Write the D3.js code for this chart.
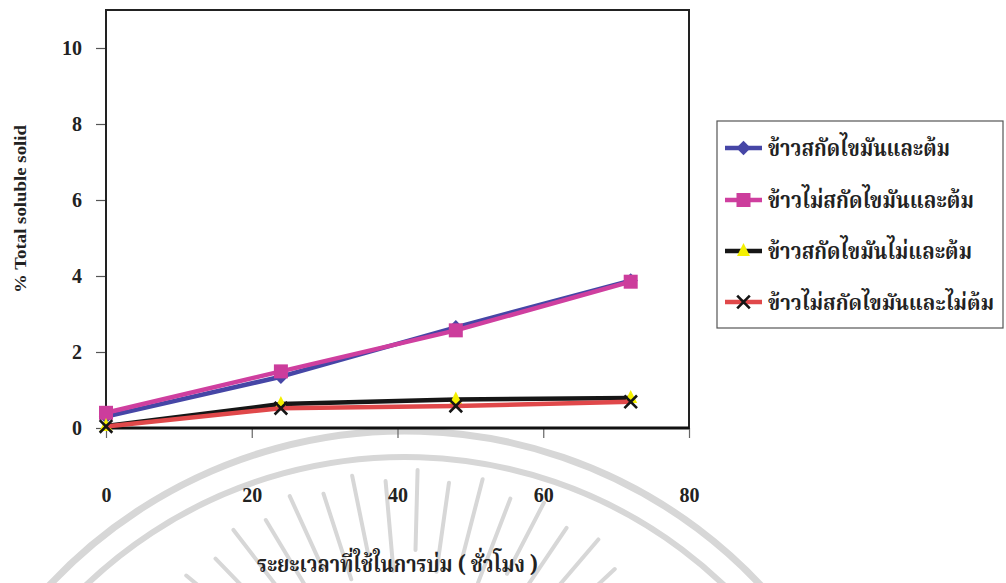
<!DOCTYPE html>
<html>
<head>
<meta charset="utf-8">
<script src="https://cdn.jsdelivr.net/npm/d3@7/dist/d3.min.js"></script>
<style>
  html, body { margin: 0; padding: 0; background: #fff; }
  svg { display: block; }
  .num { font-family: "Liberation Serif", "Times New Roman", serif; font-weight: bold; fill: #222; }
  .thai { font-family: "Noto Serif Thai", "Noto Sans Thai", "Loma", "Garuda", "Noto Sans", "DejaVu Sans", sans-serif; font-weight: bold; fill: #222; }
</style>
</head>
<body>
<svg id="chart" width="1006" height="583"></svg>
<script>
// Incubation time (hours) and % total soluble solid for four rice treatments
const hours = [0, 24, 48, 72];
const riceDefattedBoiled = [0.30, 1.35, 2.65, 3.88];
const riceFullFatBoiled = [0.40, 1.49, 2.57, 3.85];
const riceDefattedUnboiled = [0.05, 0.63, 0.75, 0.79];
const riceFullFatUnboiled = [0.04, 0.52, 0.58, 0.69];

const seriesNames = [
  "ข้าวสกัดไขมันและต้ม",
  "ข้าวไม่สกัดไขมันและต้ม",
  "ข้าวสกัดไขมันไม่และต้ม",
  "ข้าวไม่สกัดไขมันและไม่ต้ม"
];
const yTicks = [0, 2, 4, 6, 8, 10];
const xTicks = [0, 20, 40, 60, 80];
const yTitle = "% Total soluble solid";
const xTitle = "ระยะเวลาที่ใช้ในการบ่ม ( ชั่วโมง )";

const seriesValues = [riceDefattedBoiled, riceFullFatBoiled, riceDefattedUnboiled, riceFullFatUnboiled];
const styles = [
  { line: "#4646a6", marker: "diamond", fill: "#4646a6", stroke: "none" },
  { line: "#cf3f9f", marker: "square", fill: "#cc3d9c", stroke: "none" },
  { line: "#161616", marker: "triangle", fill: "#f4f000", stroke: "none" },
  { line: "#e0484a", marker: "cross", fill: "none", stroke: "#151515" }
];

const svg = d3.select("#chart");
const plot = { left: 106, right: 689, top: 10, bottom: 428 };

const x = d3.scaleLinear().domain([0, 80]).range([plot.left, plot.right]);
const y = d3.scaleLinear().domain([0, 11]).range([plot.bottom, plot.top]);

// faint seal in the background
const wm = svg.append("g").attr("fill", "none").attr("stroke", "#d7d7d7");
function arcPath(cx, cy, r, a0, a1) {
  const p = d3.path();
  p.arc(cx, cy, r, a0, a1);
  return p.toString();
}
wm.append("path").attr("d", arcPath(405, 918, 487, Math.PI * 1.12, Math.PI * 1.9)).attr("stroke-width", 7);
wm.append("path").attr("d", arcPath(405, 918, 461, Math.PI * 1.12, Math.PI * 1.9)).attr("stroke-width", 6);
const rayCenter = [410, 760];
d3.range(-160, -15, 6.5).forEach((deg, i) => {
  const a = deg * Math.PI / 180;
  const r1 = i % 2 ? 210 : 190;
  const r2 = i % 2 ? 290 : 280;
  wm.append("line")
    .attr("x1", rayCenter[0] + r1 * Math.cos(a)).attr("y1", rayCenter[1] + r1 * Math.sin(a))
    .attr("x2", rayCenter[0] + r2 * Math.cos(a)).attr("y2", rayCenter[1] + r2 * Math.sin(a))
    .attr("stroke-width", 4).attr("stroke-linecap", "round");
});

// axes
const yAxis = d3.axisLeft(y).tickValues(yTicks).tickSize(10).tickPadding(14).tickFormat(d3.format("d"));
const gy = svg.append("g").attr("transform", `translate(${plot.left},0)`).call(yAxis);
gy.select(".domain").remove();
gy.selectAll(".tick line").attr("stroke", "#555").attr("stroke-width", 1.2);
gy.selectAll(".tick text").attr("class", "num").style("font-size", "20px").attr("dy", "0.34em");

const xAxis = d3.axisBottom(x).tickValues(xTicks).tickSize(10).tickPadding(50).tickFormat(d3.format("d"));
const gx = svg.append("g").attr("transform", `translate(0,${plot.bottom})`).call(xAxis);
gx.select(".domain").remove();
gx.selectAll(".tick line").attr("stroke", "#666").attr("stroke-width", 1.2);
gx.selectAll(".tick text").attr("class", "num").style("font-size", "20px");

// plot frame
svg.append("rect")
  .attr("x", plot.left).attr("y", plot.top)
  .attr("width", plot.right - plot.left).attr("height", plot.bottom - plot.top)
  .attr("fill", "none").attr("stroke", "#222").attr("stroke-width", 2);
svg.append("line")
  .attr("x1", plot.left).attr("x2", plot.right)
  .attr("y1", plot.bottom).attr("y2", plot.bottom)
  .attr("stroke", "#111").attr("stroke-width", 3);

// marker shapes
function drawMarker(g, kind, st, cx, cy, s) {
  if (kind === "diamond") {
    g.append("path").attr("d", `M${cx},${cy - s * 0.6}L${cx + s * 0.6},${cy}L${cx},${cy + s * 0.6}L${cx - s * 0.6},${cy}Z`).attr("fill", st.fill);
  } else if (kind === "square") {
    g.append("rect").attr("x", cx - s / 2).attr("y", cy - s / 2).attr("width", s).attr("height", s).attr("fill", st.fill);
  } else if (kind === "triangle") {
    g.append("path").attr("d", `M${cx},${cy - s * 0.62}L${cx + s * 0.5},${cy + s * 0.38}L${cx - s * 0.5},${cy + s * 0.38}Z`).attr("fill", st.fill);
  } else if (kind === "cross") {
    const h = s * 0.45;
    g.append("path").attr("d", `M${cx - h},${cy - h}L${cx + h},${cy + h}M${cx - h},${cy + h}L${cx + h},${cy - h}`)
      .attr("stroke", st.stroke).attr("stroke-width", 2.6).attr("fill", "none");
  }
}
const markerSize = [12, 14, 13, 14];

const line = d3.line().x((d, i) => x(hours[i])).y(d => y(d));
seriesValues.forEach((vals, k) => {
  const g = svg.append("g");
  g.append("path").datum(vals).attr("d", line)
    .attr("fill", "none").attr("stroke", styles[k].line).attr("stroke-width", 4.5).attr("stroke-linejoin", "round");
  vals.forEach((v, i) => drawMarker(g, styles[k].marker, styles[k], x(hours[i]), y(v), markerSize[k]));
});

// axis titles
svg.append("text").attr("class", "num")
  .attr("transform", "translate(26,209) rotate(-90)")
  .attr("text-anchor", "middle").style("font-size", "17px")
  .attr("textLength", 168).attr("lengthAdjust", "spacingAndGlyphs")
  .text(yTitle);
svg.append("text").attr("class", "thai")
  .attr("x", (plot.left + plot.right) / 2).attr("y", 572)
  .attr("text-anchor", "middle").style("font-size", "23px")
  .attr("textLength", 281).attr("lengthAdjust", "spacingAndGlyphs")
  .text(xTitle);

// legend
const legend = svg.append("g");
legend.append("rect").attr("x", 717).attr("y", 121).attr("width", 286).attr("height", 207)
  .attr("fill", "#fff").attr("stroke", "#555").attr("stroke-width", 1.2);
const legendY = [148, 200, 251, 302];
const legendW = [182, 206, 204, 226];
seriesNames.forEach((name, k) => {
  const ly = legendY[k];
  legend.append("line").attr("x1", 725).attr("x2", 762).attr("y1", ly).attr("y2", ly)
    .attr("stroke", styles[k].line).attr("stroke-width", 4.5);
  drawMarker(legend, styles[k].marker, styles[k], 743.5, ly, markerSize[k]);
  legend.append("text").attr("class", "thai")
    .attr("x", 768).attr("y", ly + 8).style("font-size", k === 3 ? "21px" : "23px")
    .attr("textLength", legendW[k]).attr("lengthAdjust", "spacingAndGlyphs")
    .text(name);
});
</script>
</body>
</html>
